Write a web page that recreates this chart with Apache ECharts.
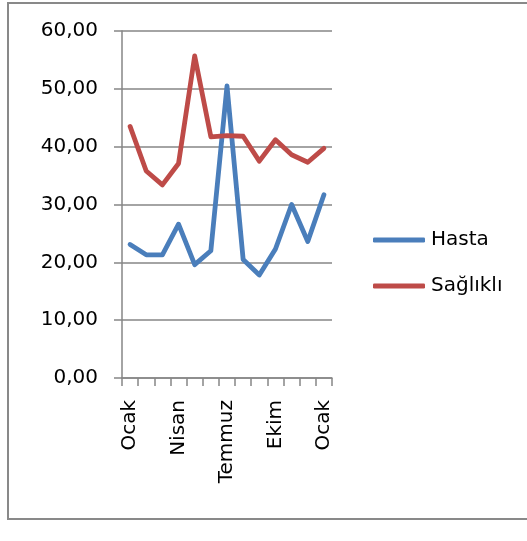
<!DOCTYPE html>
<html>
<head>
<meta charset="utf-8">
<script src="https://cdn.jsdelivr.net/npm/echarts@6/dist/echarts.min.js"></script>
<style>
  html, body { margin: 0; padding: 0; background: #ffffff; }
  #chart { width: 527px; height: 541px; }
</style>
</head>
<body>
<div id="chart"></div>
<script>
// Monthly categories (13 months, January to January)
const months = ['Ocak', 'Şubat', 'Mart', 'Nisan', 'Mayıs', 'Haziran', 'Temmuz',
                'Ağustos', 'Eylül', 'Ekim', 'Kasım', 'Aralık', 'Ocak'];
const hasta    = [23.1, 21.3, 21.3, 26.6, 19.6, 22.0, 50.5, 20.5, 17.8, 22.3, 30.0, 23.6, 31.7];
const saglikli = [43.5, 35.8, 33.4, 37.1, 55.7, 41.7, 41.9, 41.8, 37.5, 41.2, 38.6, 37.3, 39.7];
const yTicks   = { min: 0, max: 60, step: 10 };

const FONT = 'DejaVu Sans';
const FONT_SIZE = 20;
const GRID_GREY = '#868686';

const chart = echarts.init(document.getElementById('chart'), null, { renderer: 'canvas' });

chart.setOption({
  animation: false,
  backgroundColor: '#ffffff',
  graphic: [{
    type: 'rect',
    shape: { x: 8, y: 3, width: 540, height: 516 },
    style: { fill: 'none', stroke: '#898989', lineWidth: 2 },
    silent: true
  }],
  grid: { left: 122, right: 195, top: 31, bottom: 163, containLabel: false },
  legend: {
    orient: 'vertical',
    left: 373,
    top: 230,
    padding: 0,
    itemWidth: 52,
    itemHeight: 5,
    itemGap: 26,
    icon: 'roundRect',
    textStyle: { fontFamily: FONT, fontSize: FONT_SIZE, color: '#000000', lineHeight: 20, padding: [0, 0, 0, 1] },
    data: ['Hasta', 'Sağlıklı']
  },
  xAxis: {
    type: 'category',
    data: months,
    boundaryGap: true,
    axisLine: { show: true, lineStyle: { color: GRID_GREY, width: 1.5 } },
    axisTick: { show: true, interval: 0, length: 8, lineStyle: { color: GRID_GREY, width: 1.5 } },
    axisLabel: {
      interval: 2,
      rotate: 90,
      margin: 22,
      fontFamily: FONT,
      fontSize: FONT_SIZE,
      color: '#000000'
    },
    splitLine: { show: false }
  },
  yAxis: {
    type: 'value',
    min: yTicks.min,
    max: yTicks.max,
    interval: yTicks.step,
    axisLine: { show: true, lineStyle: { color: GRID_GREY, width: 1.5 } },
    axisTick: { show: true, inside: false, length: 8, lineStyle: { color: GRID_GREY, width: 1.5 } },
    axisLabel: {
      margin: 24,
      fontFamily: FONT,
      fontSize: FONT_SIZE,
      color: '#000000',
      formatter: v => v.toFixed(2).replace('.', ',')
    },
    splitLine: { show: true, lineStyle: { color: GRID_GREY, width: 1.5 } }
  },
  series: [
    {
      name: 'Hasta',
      type: 'line',
      data: hasta,
      symbol: 'none',
      color: '#4a7ebb',
      lineStyle: { width: 4.8, color: '#4a7ebb', cap: 'round', join: 'round' }
    },
    {
      name: 'Sağlıklı',
      type: 'line',
      data: saglikli,
      symbol: 'none',
      color: '#be4b48',
      lineStyle: { width: 4.8, color: '#be4b48', cap: 'round', join: 'round' }
    }
  ]
});
</script>
</body>
</html>
